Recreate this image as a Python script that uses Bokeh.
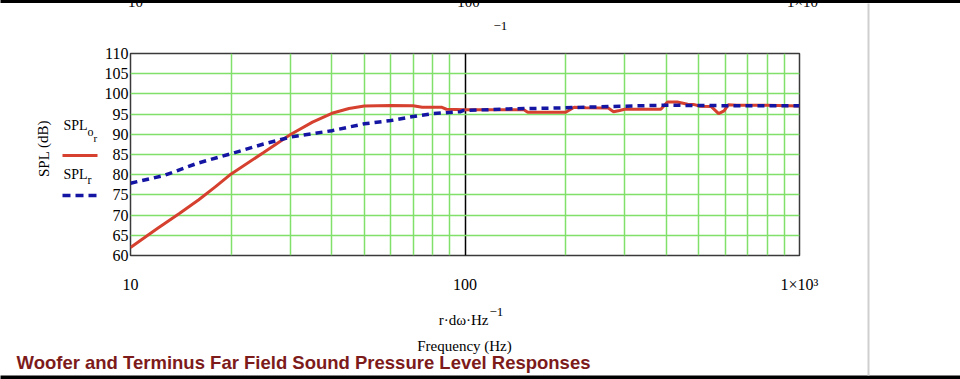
from bokeh.plotting import figure
from bokeh.models import FixedTicker, Range1d
from bokeh.core.properties import value
from bokeh.embed import file_html
from bokeh.resources import INLINE

# ---------------- data ----------------
freq_o = [10, 12, 14, 16, 18, 20, 25, 30, 35, 40, 45, 50, 60, 70, 74.5, 85, 88,
          100, 150, 154, 200, 212, 230, 268, 278, 290, 300, 385, 403, 431, 463,
          482, 505, 544, 573, 595, 612, 650, 800, 1000]
spl_o = [62.0, 66.6, 70.4, 73.8, 77.1, 80.2, 85.5, 89.9, 93.0, 95.2, 96.4, 97.0,
         97.1, 97.05, 96.7, 96.7, 96.2,
         96.1, 96.05, 95.45, 95.45, 96.7, 96.6, 96.5, 95.6, 95.9, 96.2, 96.2,
         98.0, 98.0, 97.45, 97.4, 96.95, 96.9, 95.1, 95.8, 97.3, 97.2, 97.2, 97.0]

freq_r = [10, 12.6, 15.8, 20, 25, 30, 40, 50, 60, 70, 80, 97, 99, 139, 197, 278,
          392, 551, 983, 1000]
spl_r = [77.9, 79.8, 82.8, 85.2, 87.6, 89.3, 90.9, 92.6, 93.4, 94.4, 95.1, 95.6,
         95.9, 96.3, 96.55, 96.9, 97.2, 97.1, 97.05, 97.05]

x_major_ticks = [10, 100, 1000]
x_minor_ticks = [20, 30, 40, 50, 60, 70, 80, 90, 200, 300, 400, 500, 600, 700, 800, 900]
x_tick_labels = {10: "10", 100: "100", 1000: "1×10³"}
y_ticks = [60, 65, 70, 75, 80, 85, 90, 95, 100, 105, 110]

title_text = "Woofer and Terminus Far Field Sound Pressure Level Responses"
x_label_main = "r·dω·Hz"
x_label_exp = "−1"
x_label_2 = "Frequency (Hz)"
y_label = "SPL (dB)"

RED = "#d6412f"
BLUE = "#1515a3"
GREEN = "#80e06a"
SERIF = "Liberation Serif"

# ---------------- figure ----------------
W, H = 960, 379
FL, FR, FT, FB = 130, 799, 53, 255   # frame edges in page pixels

p = figure(width=W, height=H, x_axis_type="log",
           x_range=Range1d(10, 1000), y_range=Range1d(60, 110),
           output_backend="svg", toolbar_location=None,
           min_border_left=FL, min_border_right=W - FR,
           min_border_top=FT, min_border_bottom=H - FB)
p.background_fill_color = "white"
p.border_fill_color = "white"
p.outline_line_color = "#3a3a3a"
p.outline_line_width = 1.5

# axes
p.xaxis.ticker = FixedTicker(ticks=x_major_ticks, minor_ticks=x_minor_ticks)
p.xaxis.major_label_overrides = x_tick_labels
p.yaxis.ticker = FixedTicker(ticks=y_ticks)
for ax in (p.xaxis, p.yaxis):
    ax.axis_line_color = None
    ax.major_tick_line_color = None
    ax.minor_tick_line_color = None
    ax.major_tick_out = 0
    ax.major_tick_in = 0
    ax.minor_tick_out = 0
    ax.minor_tick_in = 0
    ax.major_label_text_font = SERIF
    ax.major_label_text_font_size = "16px"
    ax.major_label_text_color = "black"
p.xaxis.major_label_standoff = 20
p.yaxis.major_label_standoff = 2

# grid
p.xgrid.grid_line_color = "black"
p.xgrid.grid_line_width = 1.5
p.xgrid.minor_grid_line_color = GREEN
p.xgrid.minor_grid_line_width = 1.5
p.ygrid.grid_line_color = GREEN
p.ygrid.grid_line_width = 1.5

# series
p.line(freq_o, spl_o, line_color=RED, line_width=3)
p.line(freq_r, spl_r, line_color=BLUE, line_width=3.5, line_dash="7 5")


# helpers converting page pixel positions (decoration placement only) to data space
def xd(px):
    return 10 ** (1 + (px - FL) / ((FR - FL) / 2))


def yd(py):
    return 60 + (FB - py) / ((FB - FT) / 50)


def lab(x, y, text, size, font=SERIF, align="center", baseline="middle",
        color="black", style="normal", angle=0.0):
    p.text(x=[xd(x)], y=[yd(y)], text=[text], text_font=value(font),
           text_font_size=value(f"{size}px"), text_align=align,
           text_baseline=baseline, text_color=color,
           text_font_style=style, angle=angle, level="overlay")


def seg(x0, y0, x1, y1, color, width, dash="solid"):
    p.line([xd(x0), xd(x1)], [yd(y0), yd(y1)], line_color=color,
           line_width=width, line_dash=dash, level="overlay")


# axis titles, chart title
lab(488, 319, x_label_main, 15, align="right")
lab(489, 311, x_label_exp, 13, align="left")
lab(464, 345, x_label_2, 15)
lab(16, 362, title_text, 18.5, font="Liberation Sans", align="left",
    color="#7d1b1b", style="bold")
lab(43, 148, y_label, 15, angle=1.5708)

# legend texts
lab(63, 125, "SPL", 14, align="left")
lab(87, 131, "o", 12, align="left")
lab(93, 137, "r", 11, align="left")
lab(63, 174, "SPL", 14, align="left")
lab(87, 179, "r", 12, align="left")

# legend sample lines
seg(62, 155, 97, 155, RED, 3)
seg(62, 195, 97, 195, BLUE, 3.5, "8 5")

# cropped copy of the axis texts at the top of the page
lab(135, 1, "10", 15)
lab(468, 1, "100", 15)
lab(802, 1, "1×10", 15)
lab(493, 25, x_label_exp, 13, align="left")

# page decorations: black bands top and bottom, grey separator on the right
seg(0, 1, 960, 1, "black", 3)
seg(0, 377.5, 960, 377.5, "black", 5)
seg(868, 3, 868, 375, "#cfcfcf", 2)

open("out.html", "w").write(file_html(p, INLINE))
